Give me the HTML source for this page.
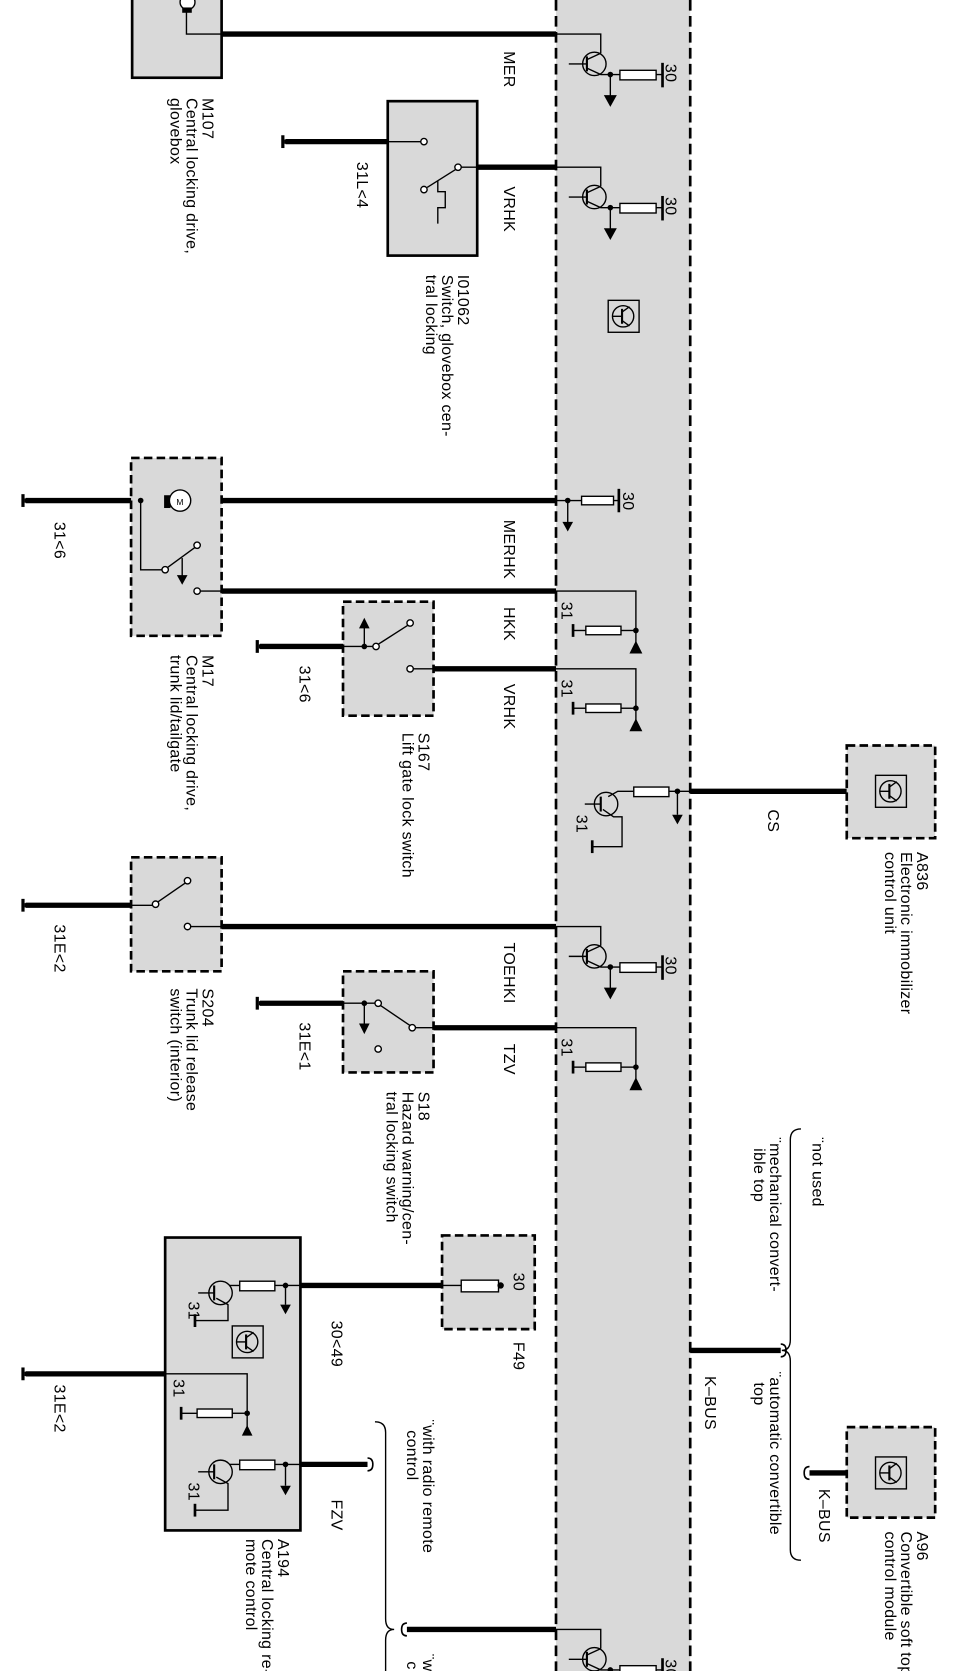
<!DOCTYPE html>
<html><head><meta charset="utf-8"><style>
html,body{margin:0;padding:0;background:#fff}
svg{display:block}
text{font-family:"Liberation Sans",Arial,sans-serif;font-size:15px;fill:#000;letter-spacing:0.3px}
</style></head><body>
<svg width="964" height="1671" viewBox="0 0 905 1569" xmlns="http://www.w3.org/2000/svg">
<defs>
<g id="tr30" fill="none" stroke="#000" stroke-width="1.3">
  <polyline points="0,0 42,0 42,18"/>
  <circle cx="36" cy="28" r="11"/>
  <line x1="29" y1="21" x2="29" y2="35" stroke-width="2"/>
  <line x1="12" y1="28" x2="29" y2="28"/>
  <line x1="29" y1="24" x2="42" y2="18"/>
  <polyline points="29,32 42,38 51,38 60,38"/>
  <rect x="60" y="34" width="34" height="9" fill="#fff"/>
  <line x1="94" y1="38" x2="100" y2="38"/>
  <line x1="100" y1="27" x2="100" y2="50" stroke-width="2.5"/>
  <line x1="51" y1="38" x2="51" y2="60"/>
  <polygon points="46,58 56,58 51,67" fill="#000"/>
  <circle cx="51" cy="38" r="2" fill="#000"/>
</g>
<g id="g31" fill="none" stroke="#000" stroke-width="1.3">
  <polyline points="0,0 75,0 75,48"/>
  <polygon points="70,58 80,58 75,48" fill="#000"/>
  <circle cx="75" cy="37" r="2" fill="#000"/>
  <line x1="75" y1="37" x2="61" y2="37"/>
  <rect x="28" y="33" width="33" height="8" fill="#fff"/>
  <line x1="28" y1="37" x2="16" y2="37"/>
  <line x1="16" y1="31" x2="16" y2="43" stroke-width="2.5"/>
</g>
<g id="icon" fill="none" stroke="#000" stroke-width="1.3">
  <rect x="0" y="0" width="29" height="30"/>
  <circle cx="14" cy="15" r="10"/>
  <line x1="4" y1="15" x2="13" y2="15"/>
  <line x1="13" y1="8" x2="13" y2="22" stroke-width="2"/>
  <line x1="13" y1="11" x2="20" y2="6"/>
  <line x1="13" y1="19" x2="20" y2="24"/>
</g>
<g id="gnd"><rect x="-4" y="-6" width="3" height="12" fill="#000"/><rect x="-1" y="-2" width="4" height="4" fill="#000"/></g>
</defs>

<rect x="522" y="-5" width="126" height="1580" fill="#d9d9d9"/>
<line x1="522" y1="0" x2="522" y2="1569" stroke="#000" stroke-width="2.5" stroke-dasharray="10,5"/>
<line x1="648" y1="0" x2="648" y2="1569" stroke="#000" stroke-width="2.5" stroke-dasharray="10,5"/>
<use href="#icon" x="571" y="282"/>

<g stroke="#000" stroke-width="5" fill="none">
  <line x1="208" y1="32" x2="522" y2="32"/>
  <line x1="268" y1="133" x2="364" y2="133"/>
  <line x1="448" y1="157" x2="522" y2="157"/>
  <line x1="24" y1="470" x2="522" y2="470"/>
  <line x1="208" y1="555" x2="522" y2="555"/>
  <line x1="244" y1="607" x2="322" y2="607"/>
  <line x1="407" y1="628" x2="522" y2="628"/>
  <line x1="648" y1="743" x2="795" y2="743"/>
  <line x1="24" y1="850" x2="123" y2="850"/>
  <line x1="208" y1="870" x2="522" y2="870"/>
  <line x1="244" y1="942" x2="322" y2="942"/>
  <line x1="407" y1="965" x2="522" y2="965"/>
  <line x1="648" y1="1268" x2="733" y2="1268"/>
  <line x1="760" y1="1383" x2="795" y2="1383"/>
  <line x1="282" y1="1207" x2="415" y2="1207"/>
  <line x1="24" y1="1290" x2="155" y2="1290"/>
  <line x1="282" y1="1375" x2="345" y2="1375"/>
  <line x1="382" y1="1530" x2="522" y2="1530"/>
</g>
<use href="#gnd" x="268" y="133"/>
<use href="#gnd" x="24" y="470"/>
<use href="#gnd" x="244" y="607"/>
<use href="#gnd" x="24" y="850"/>
<use href="#gnd" x="244" y="942"/>
<use href="#gnd" x="24" y="1290"/>

<g fill="none" stroke="#000" stroke-width="1.5">
  <path d="M733,1262 q5,0 5,6 q0,6 -5,6"/>
  <path d="M760,1377 q-5,0 -5,6 q0,6 5,6"/>
  <path d="M345,1369 q5,0 5,6 q0,6 -5,6"/>
  <path d="M382,1524 q-5,0 -5,6 q0,6 5,6"/>
</g>

<g fill="none" stroke="#000" stroke-width="1.3">
  <path d="M752,1060 q-10,0 -10,10 L742,1258 q0,10 -8,10 q8,0 8,10 L742,1455 q0,10 10,10"/>
  <path d="M352,1335 q10,0 10,10 L362,1520 q0,10 8,10 q-8,0 -8,10 L362,1580"/>
</g>

<use href="#tr30" x="522" y="32"/>
<use href="#tr30" x="522" y="157"/>
<use href="#tr30" x="522" y="870"/>
<use href="#tr30" x="522" y="1530"/>
<use href="#g31" x="522" y="555"/>
<use href="#g31" x="522" y="628"/>
<use href="#g31" x="522" y="965"/>

<g fill="none" stroke="#000" stroke-width="1.3">
  <line x1="522" y1="470" x2="546" y2="470"/>
  <circle cx="533" cy="470" r="2" fill="#000"/>
  <line x1="533" y1="470" x2="533" y2="492"/>
  <rect x="546" y="466" width="30" height="8" fill="#fff"/>
  <line x1="576" y1="470" x2="581" y2="470"/>
  <line x1="581" y1="459" x2="581" y2="481" stroke-width="2.5"/>
</g>
<polygon points="528,490 538,490 533,499" fill="#000"/>

<g fill="none" stroke="#000" stroke-width="1.3">
  <line x1="648" y1="743" x2="628" y2="743"/>
  <rect x="595" y="739" width="33" height="9" fill="#fff"/>
  <circle cx="636" cy="743" r="2" fill="#000"/>
  <line x1="636" y1="743" x2="636" y2="765"/>
  <polyline points="595,743 580,743 571,748"/>
  <circle cx="569" cy="755" r="11"/>
  <line x1="564" y1="748" x2="564" y2="762" stroke-width="2"/>
  <line x1="549" y1="755" x2="564" y2="755"/>
  <polyline points="566,760 576,767 584,767 584,795 556,795"/>
  <line x1="556" y1="789" x2="556" y2="801" stroke-width="2.5"/>
</g>
<polygon points="631,765 641,765 636,774" fill="#000"/>

<rect x="124" y="-5" width="84" height="78" fill="#d9d9d9" stroke="#000" stroke-width="2.5"/>
<polyline points="175,8 175,32 208,32" fill="none" stroke="#000" stroke-width="1.3"/>
<circle cx="176" cy="2" r="7" fill="#fff" stroke="#000" stroke-width="1.3"/>
<rect x="171" y="7" width="9" height="5" fill="#000"/>

<rect x="364" y="95" width="84" height="145" fill="#d9d9d9" stroke="#000" stroke-width="2.5"/>
<g fill="none" stroke="#000" stroke-width="1.3">
  <line x1="364" y1="133" x2="395" y2="133"/>
  <circle cx="398" cy="133" r="3" fill="#fff"/>
  <line x1="430" y1="157" x2="448" y2="157"/>
  <circle cx="430" cy="157" r="3" fill="#fff"/>
  <circle cx="398" cy="178" r="3" fill="#fff"/>
  <line x1="401" y1="176" x2="428" y2="159"/>
  <polyline points="411,170 411,180 418,180 418,195 411,195 411,210"/>
</g>

<rect x="123" y="430" width="85" height="167" fill="#d9d9d9" stroke="#000" stroke-width="2.5" stroke-dasharray="8,4"/>
<g fill="none" stroke="#000" stroke-width="1.3">
  <circle cx="132" cy="470" r="2" fill="#000"/>
  <polyline points="132,470 132,535 152,535"/>
  <circle cx="155" cy="535" r="3" fill="#fff"/>
  <line x1="157" y1="533" x2="183" y2="514"/>
  <circle cx="185" cy="512" r="3" fill="#fff"/>
  <line x1="171" y1="524" x2="171" y2="542"/>
  <circle cx="185" cy="555" r="3" fill="#fff"/>
  <line x1="188" y1="555" x2="208" y2="555"/>
</g>
<polygon points="166,540 176,540 171,549" fill="#000"/>
<rect x="154" y="465" width="6" height="12" fill="#000"/>
<circle cx="169" cy="470" r="10" fill="#fff" stroke="#000" stroke-width="1.3"/>
<text x="169" y="474" text-anchor="middle" style="font-size:8px">M</text>

<rect x="322" y="565" width="85" height="107" fill="#d9d9d9" stroke="#000" stroke-width="2.5" stroke-dasharray="8,4"/>
<g fill="none" stroke="#000" stroke-width="1.3">
  <line x1="322" y1="607" x2="350" y2="607"/>
  <circle cx="342" cy="607" r="2" fill="#000"/>
  <line x1="342" y1="607" x2="342" y2="588"/>
  <circle cx="353" cy="607" r="3" fill="#fff"/>
  <line x1="355" y1="605" x2="383" y2="587"/>
  <circle cx="385" cy="585" r="3" fill="#fff"/>
  <circle cx="385" cy="628" r="3" fill="#fff"/>
  <line x1="388" y1="628" x2="407" y2="628"/>
</g>
<polygon points="337,590 347,590 342,580" fill="#000"/>

<rect x="795" y="700" width="83" height="87" fill="#d9d9d9" stroke="#000" stroke-width="2.5" stroke-dasharray="8,4"/>
<use href="#icon" x="822" y="728"/>

<rect x="123" y="805" width="85" height="107" fill="#d9d9d9" stroke="#000" stroke-width="2.5" stroke-dasharray="8,4"/>
<g fill="none" stroke="#000" stroke-width="1.3">
  <line x1="123" y1="850" x2="143" y2="850"/>
  <circle cx="146" cy="849" r="3" fill="#fff"/>
  <line x1="148" y1="847" x2="174" y2="829"/>
  <circle cx="176" cy="827" r="3" fill="#fff"/>
  <circle cx="176" cy="870" r="3" fill="#fff"/>
  <line x1="179" y1="870" x2="208" y2="870"/>
</g>

<rect x="322" y="912" width="85" height="95" fill="#d9d9d9" stroke="#000" stroke-width="2.5" stroke-dasharray="8,4"/>
<g fill="none" stroke="#000" stroke-width="1.3">
  <line x1="322" y1="942" x2="352" y2="942"/>
  <circle cx="342" cy="942" r="2" fill="#000"/>
  <line x1="342" y1="942" x2="342" y2="962"/>
  <circle cx="355" cy="942" r="3" fill="#fff"/>
  <line x1="357" y1="944" x2="385" y2="963"/>
  <circle cx="387" cy="965" r="3" fill="#fff"/>
  <line x1="390" y1="965" x2="407" y2="965"/>
  <circle cx="355" cy="985" r="3" fill="#fff"/>
</g>
<polygon points="337,961 347,961 342,971" fill="#000"/>

<rect x="415" y="1160" width="87" height="88" fill="#d9d9d9" stroke="#000" stroke-width="2.5" stroke-dasharray="8,4"/>
<rect x="433" y="1202" width="35" height="11" fill="#fff" stroke="#000" stroke-width="1.3"/>
<line x1="415" y1="1207" x2="433" y2="1207" stroke="#000" stroke-width="1.3"/>
<circle cx="470" cy="1207" r="3" fill="#000"/>

<rect x="795" y="1340" width="83" height="85" fill="#d9d9d9" stroke="#000" stroke-width="2.5" stroke-dasharray="8,4"/>
<use href="#icon" x="822" y="1368"/>

<rect x="155" y="1162" width="127" height="275" fill="#d9d9d9" stroke="#000" stroke-width="2.5"/>
<g fill="none" stroke="#000" stroke-width="1.3">
  <line x1="282" y1="1207" x2="258" y2="1207"/>
  <rect x="225" y="1203" width="33" height="9" fill="#fff"/>
  <circle cx="268" cy="1207" r="2" fill="#000"/>
  <line x1="268" y1="1207" x2="268" y2="1225"/>
  <line x1="225" y1="1207" x2="215" y2="1207"/>
  <circle cx="207" cy="1214" r="11"/>
  <line x1="201" y1="1207" x2="201" y2="1221" stroke-width="2"/>
  <line x1="186" y1="1214" x2="201" y2="1214"/>
  <polyline points="203,1219 214,1225 214,1240 183,1240"/>
  <line x1="183" y1="1234" x2="183" y2="1246" stroke-width="2.5"/>
  <polyline points="155,1290 232,1290 232,1340"/>
  <circle cx="232" cy="1327" r="2" fill="#000"/>
  <line x1="232" y1="1327" x2="218" y2="1327"/>
  <rect x="185" y="1323" width="33" height="8" fill="#fff"/>
  <line x1="185" y1="1327" x2="170" y2="1327"/>
  <line x1="170" y1="1321" x2="170" y2="1333" stroke-width="2.5"/>
  <line x1="282" y1="1375" x2="258" y2="1375"/>
  <rect x="225" y="1371" width="33" height="9" fill="#fff"/>
  <circle cx="268" cy="1375" r="2" fill="#000"/>
  <line x1="268" y1="1375" x2="268" y2="1395"/>
  <line x1="225" y1="1375" x2="215" y2="1375"/>
  <circle cx="207" cy="1382" r="11"/>
  <line x1="201" y1="1375" x2="201" y2="1389" stroke-width="2"/>
  <line x1="186" y1="1382" x2="201" y2="1382"/>
  <polyline points="203,1387 214,1393 214,1418 183,1418"/>
  <line x1="183" y1="1412" x2="183" y2="1424" stroke-width="2.5"/>
</g>
<polygon points="263,1225 273,1225 268,1234" fill="#000"/>
<polygon points="227,1348 237,1348 232,1338" fill="#000"/>
<polygon points="263,1395 273,1395 268,1404" fill="#000"/>
<use href="#icon" x="218" y="1245"/>

<g>
<text transform="translate(190,92) rotate(90)">M107</text>
<text transform="translate(175,92) rotate(90)">Central locking drive,</text>
<text transform="translate(160,92) rotate(90)">glovebox</text>
<text transform="translate(473,48) rotate(90)">MER</text>
<text transform="translate(473,175) rotate(90)">VRHK</text>
<text transform="translate(335,152) rotate(90)">31L&lt;4</text>
<text transform="translate(430,258) rotate(90)">I01062</text>
<text transform="translate(415,258) rotate(90)">Switch, glovebox cen-</text>
<text transform="translate(400,258) rotate(90)">tral locking</text>
<text transform="translate(625,60) rotate(90)">30</text>
<text transform="translate(625,185) rotate(90)">30</text>
<text transform="translate(625,898) rotate(90)">30</text>
<text transform="translate(625,1558) rotate(90)">30</text>
<text transform="translate(585,462) rotate(90)">30</text>
<text transform="translate(51,490) rotate(90)">31&lt;6</text>
<text transform="translate(473,488) rotate(90)">MERHK</text>
<text transform="translate(473,570) rotate(90)">HKK</text>
<text transform="translate(473,642) rotate(90)">VRHK</text>
<text transform="translate(527,565) rotate(90)">31</text>
<text transform="translate(527,638) rotate(90)">31</text>
<text transform="translate(527,975) rotate(90)">31</text>
<text transform="translate(541,765) rotate(90)">31</text>
<text transform="translate(281,625) rotate(90)">31&lt;6</text>
<text transform="translate(190,615) rotate(90)">M17</text>
<text transform="translate(175,615) rotate(90)">Central locking drive,</text>
<text transform="translate(160,615) rotate(90)">trunk lid/tailgate</text>
<text transform="translate(393,688) rotate(90)">S167</text>
<text transform="translate(378,688) rotate(90)">Lift gate lock switch</text>
<text transform="translate(721,760) rotate(90)">CS</text>
<text transform="translate(861,800) rotate(90)">A836</text>
<text transform="translate(846,800) rotate(90)">Electronic immobilizer</text>
<text transform="translate(831,800) rotate(90)">control unit</text>
<text transform="translate(51,868) rotate(90)">31E&lt;2</text>
<text transform="translate(473,885) rotate(90)">TOEHKI</text>
<text transform="translate(473,980) rotate(90)">TZV</text>
<text transform="translate(281,960) rotate(90)">31E&lt;1</text>
<text transform="translate(190,928) rotate(90)">S204</text>
<text transform="translate(175,928) rotate(90)">Trunk lid release</text>
<text transform="translate(160,928) rotate(90)">switch (interior)</text>
<text transform="translate(393,1025) rotate(90)">S18</text>
<text transform="translate(378,1025) rotate(90)">Hazard warning/cen-</text>
<text transform="translate(363,1025) rotate(90)">tral locking switch</text>
<text transform="translate(763,1068) rotate(90)">¨not used</text>
<text transform="translate(723,1068) rotate(90)">¨mechanical convert-</text>
<text transform="translate(708,1078) rotate(90)">ible top</text>
<text transform="translate(723,1288) rotate(90)">¨automatic convertible</text>
<text transform="translate(708,1298) rotate(90)">top</text>
<text transform="translate(662,1292) rotate(90)">K–BUS</text>
<text transform="translate(769,1398) rotate(90)">K–BUS</text>
<text transform="translate(861,1438) rotate(90)">A96</text>
<text transform="translate(846,1438) rotate(90)">Convertible soft top</text>
<text transform="translate(831,1438) rotate(90)">control module</text>
<text transform="translate(482,1195) rotate(90)">30</text>
<text transform="translate(482,1260) rotate(90)">F49</text>
<text transform="translate(311,1240) rotate(90)">30&lt;49</text>
<text transform="translate(311,1408) rotate(90)">FZV</text>
<text transform="translate(51,1300) rotate(90)">31E&lt;2</text>
<text transform="translate(177,1222) rotate(90)">31</text>
<text transform="translate(163,1295) rotate(90)">31</text>
<text transform="translate(177,1392) rotate(90)">31</text>
<text transform="translate(397,1333) rotate(90)">¨with radio remote</text>
<text transform="translate(382,1343) rotate(90)">control</text>
<text transform="translate(261,1445) rotate(90)">A194</text>
<text transform="translate(246,1445) rotate(90)">Central locking re-</text>
<text transform="translate(231,1445) rotate(90)">mote control</text>
<text transform="translate(397,1553) rotate(90)">¨w</text>
<text transform="translate(382,1560) rotate(90)">c</text>
</g>
</svg>
</body></html>
